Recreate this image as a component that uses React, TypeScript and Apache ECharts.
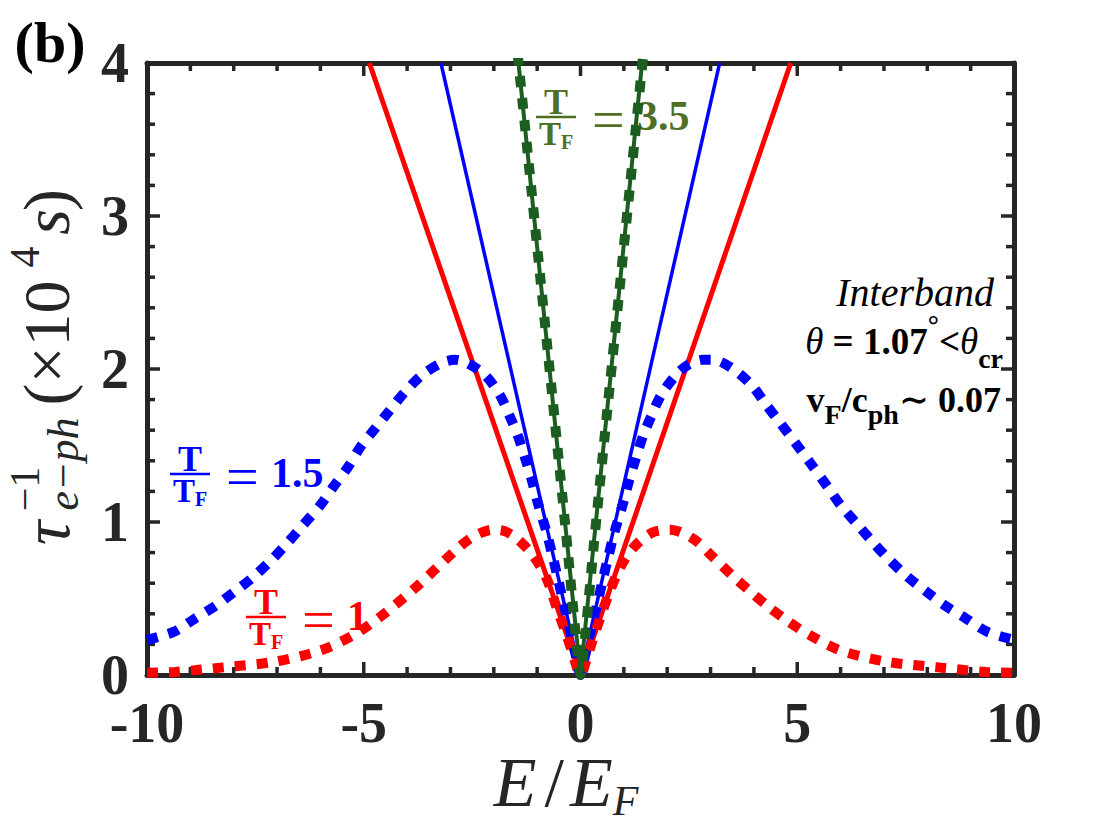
import React, { useEffect, useRef } from 'react';
import * as echarts from 'echarts';

// ---- data ----
const xTickValues = [-10, -5, 0, 5, 10];
const xMinorTickValues = [-9, -8, -7, -6, -4, -3, -2, -1, 1, 2, 3, 4, 6, 7, 8, 9];
const yTickValues = [0, 1, 2, 3, 4];
const yMinorTickValues = [0.2, 0.4, 0.6, 0.8, 1.2, 1.4, 1.6, 1.8, 2.2, 2.4, 2.6, 2.8, 3.2, 3.4, 3.6, 3.8];

const solidRedX = [-4.87, 0, 4.85];
const solidRedY = [4, 0, 4];
const solidBlueX = [-3.22, 0, 3.21];
const solidBlueY = [4, 0, 4];
const solidGreenX = [-1.43, 0, 1.42];
const solidGreenY = [4, 0, 4];

const dotRedX = [-10, -9.35, -8.24, -7.1, -6.0, -5.24, -4.62, -3.77, -2.94, -2.5, -2.02, -1.75, -1.46, -1.09, -0.78, -0.55, -0.32, -0.17, 0, 0.17, 0.26, 0.45, 0.68, 0.91, 1.21, 1.65, 2.07, 2.6, 3.06, 3.5, 3.9, 4.32, 4.79, 5.29, 6.0, 7.1, 8.24, 9.35, 10];
const dotRedY = [0.015, 0.02, 0.05, 0.085, 0.16, 0.26, 0.38, 0.58, 0.8, 0.9, 0.95, 0.94, 0.89, 0.78, 0.63, 0.44, 0.26, 0.13, 0, 0.13, 0.21, 0.37, 0.55, 0.7, 0.83, 0.93, 0.95, 0.89, 0.77, 0.65, 0.55, 0.45, 0.35, 0.26, 0.16, 0.085, 0.05, 0.02, 0.015];

const dotBlueX = [-10, -9.4, -8.89, -8.43, -8.0, -7.55, -7.1, -6.77, -6.4, -6.0, -5.7, -5.36, -5.08, -4.74, -4.4, -4.05, -3.66, -3.2, -2.9, -2.62, -2.2, -1.86, -1.63, -1.44, -1.28, -1.12, -0.98, -0.78, -0.63, -0.52, -0.4, -0.24, -0.1, 0, 0.1, 0.24, 0.4, 0.52, 0.63, 0.78, 0.98, 1.12, 1.28, 1.44, 1.63, 1.86, 2.2, 2.5, 2.83, 3.06, 3.52, 3.96, 4.3, 4.6, 4.95, 5.29, 5.7, 6.0, 6.4, 6.77, 7.1, 7.55, 8.0, 8.43, 8.89, 9.4, 10];
const dotBlueY = [0.23, 0.28, 0.37, 0.45, 0.54, 0.64, 0.76, 0.86, 0.98, 1.11, 1.23, 1.36, 1.49, 1.61, 1.73, 1.85, 1.96, 2.04, 2.06, 2.04, 1.96, 1.83, 1.69, 1.56, 1.42, 1.27, 1.12, 0.93, 0.76, 0.63, 0.48, 0.29, 0.12, 0, 0.12, 0.29, 0.48, 0.63, 0.76, 0.93, 1.12, 1.27, 1.42, 1.56, 1.69, 1.83, 1.96, 2.03, 2.06, 2.06, 2.0, 1.89, 1.76, 1.65, 1.52, 1.39, 1.23, 1.11, 0.98, 0.86, 0.76, 0.64, 0.54, 0.45, 0.37, 0.28, 0.23];

const dotGreenX = [-1.5, -1.2, -0.9, -0.6, -0.3, -0.12, 0, 0.12, 0.3, 0.6, 0.9, 1.2, 1.5];
const dotGreenY = [4.2, 3.36, 2.52, 1.68, 0.83, 0.29, 0, 0.29, 0.83, 1.68, 2.52, 3.36, 4.2];

const SERIF = "'Liberation Serif', 'DejaVu Serif', serif";
const AXIS_COLOR = '#262626';
const RED = '#ff0000';
const BLUE = '#0000ff';
const GREEN = '#1b5e20';
const GREEN_LABEL = '#4d7024';

const pairs = (xs: number[], ys: number[]) => xs.map((x, i) => [x, ys[i]]);

function fractionLabel(cx: number, cy: number, value: string, color: string) {
  return {
    type: 'group',
    x: cx,
    y: cy,
    children: [
      { type: 'text', x: 0, y: -15, style: { text: 'T', fontSize: 36, fontWeight: 'bold', fontFamily: SERIF, fill: color, align: 'center', verticalAlign: 'middle' } },
      { type: 'line', shape: { x1: -20, y1: 0, x2: 20, y2: 0 }, style: { stroke: color, lineWidth: 2.5 } },
      {
        type: 'text', x: 0, y: 17,
        style: {
          text: '{m|T}{s|F}', align: 'center', verticalAlign: 'middle', fill: color,
          rich: {
            m: { fontSize: 33, fontWeight: 'bold', fontFamily: SERIF, fill: color, lineHeight: 36, verticalAlign: 'middle' },
            s: { fontSize: 20, fontWeight: 'bold', fontFamily: SERIF, fill: color, lineHeight: 20, verticalAlign: 'bottom' },
          },
        },
      },
      { type: 'text', x: 36, y: 2, style: { text: '=', fontSize: 58, fontFamily: SERIF, fill: color, align: 'left', verticalAlign: 'middle' } },
      { type: 'text', x: 81, y: -1, style: { text: value, fontSize: 42, fontWeight: 'bold', fontFamily: SERIF, fill: color, align: 'left', verticalAlign: 'middle' } },
    ],
  };
}

function rotText(x: number, y: number, text: string, size: number, italic = false) {
  return {
    type: 'text', x, y, rotation: Math.PI / 2,
    style: { text, fontSize: size, fontFamily: SERIF, fontStyle: italic ? 'italic' : 'normal', fill: AXIS_COLOR, align: 'center', verticalAlign: 'middle' },
  };
}

export default function App() {
  const ref = useRef<HTMLDivElement>(null);
  useEffect(() => {
    if (!ref.current) return;
    const chart = echarts.init(ref.current, undefined, { renderer: 'svg' });

    const xMin = xTickValues[0];
    const xMax = xTickValues[xTickValues.length - 1];
    const yMin = yTickValues[0];
    const yMax = yTickValues[yTickValues.length - 1];

    const labelStyle = { fontSize: 56, fontWeight: 'bold', fontFamily: SERIF, color: AXIS_COLOR };

    const makeAxis = (position: string, min: number, max: number, interval: number, withLabel: boolean, margin: number) => ({
      type: 'value',
      position,
      min,
      max,
      interval,
      axisLine: { show: true, onZero: false, lineStyle: { color: AXIS_COLOR, width: 5 } },
      axisTick: { show: false },
      minorTick: { show: false },
      splitLine: { show: false },
      minorSplitLine: { show: false },
      axisLabel: withLabel ? { ...labelStyle, margin, formatter: (v: number) => String(v) } : { show: false },
    });

    const lineSeries = (data: number[][], color: string, width: number, dashed: number[] | null, smooth = 0) => ({
      type: 'line',
      data,
      showSymbol: false,
      symbol: 'none',
      smooth,
      clip: true,
      lineStyle: { color, width, type: dashed ? dashed : 'solid', cap: 'butt' },
      emphasis: { disabled: true },
      silent: true,
    });

    // inward ticks on all four sides, placed through the axes' own scales
    const tickSeries = (values: number[], dir: 'x' | 'y', len: number) => ({
      type: 'custom',
      silent: true,
      data: dir === 'x' ? values.map((v) => [v, yMin]) : values.map((v) => [xMin, v]),
      renderItem: (_params: any, api: any) => {
        if (dir === 'x') {
          const v = api.value(0);
          const b = api.coord([v, yMin]);
          const t = api.coord([v, yMax]);
          return {
            type: 'group',
            children: [
              { type: 'line', shape: { x1: b[0], y1: b[1], x2: b[0], y2: b[1] - len }, style: { stroke: AXIS_COLOR, lineWidth: 3.5 } },
              { type: 'line', shape: { x1: t[0], y1: t[1], x2: t[0], y2: t[1] + len }, style: { stroke: AXIS_COLOR, lineWidth: 3.5 } },
            ],
          };
        }
        const v = api.value(1);
        const l = api.coord([xMin, v]);
        const r = api.coord([xMax, v]);
        return {
          type: 'group',
          children: [
            { type: 'line', shape: { x1: l[0], y1: l[1], x2: l[0] + len, y2: l[1] }, style: { stroke: AXIS_COLOR, lineWidth: 3.5 } },
            { type: 'line', shape: { x1: r[0], y1: r[1], x2: r[0] - len, y2: r[1] }, style: { stroke: AXIS_COLOR, lineWidth: 3.5 } },
          ],
        };
      },
    });

    chart.setOption({
      animation: false,
      grid: { left: 147, right: 106, top: 63, bottom: 165 },
      xAxis: [
        makeAxis('bottom', xMin, xMax, 5, true, 20),
        makeAxis('top', xMin, xMax, 5, false, 0),
      ],
      yAxis: [
        makeAxis('left', yMin, yMax, 1, true, 18),
        makeAxis('right', yMin, yMax, 1, false, 0),
      ],
      series: [
        tickSeries(xTickValues, 'x', 13),
        tickSeries(xMinorTickValues, 'x', 8),
        tickSeries(yTickValues, 'y', 13),
        tickSeries(yMinorTickValues, 'y', 8),
        lineSeries(pairs(solidRedX, solidRedY), RED, 5, null),
        lineSeries(pairs(solidBlueX, solidBlueY), BLUE, 3.5, null),
        lineSeries(pairs(dotRedX, dotRedY), RED, 10, [11, 11], 0.3),
        lineSeries(pairs(dotBlueX, dotBlueY), BLUE, 10, [11, 11], 0.3),
        lineSeries(pairs(dotGreenX, dotGreenY), GREEN, 10, [11, 11], 0.2),
        lineSeries(pairs(solidGreenX, solidGreenY), GREEN, 4, null),
      ],
      graphic: [
        { type: 'text', x: 50, y: 42, style: { text: '(b)', fontSize: 58, fontWeight: 'bold', fontFamily: SERIF, fill: '#000', align: 'center', verticalAlign: 'middle' } },
        // y-axis name: τ^{-1}_{e-ph}(×10^4 s)
        rotText(46, 533, 'τ', 68, true),
        rotText(25, 489, '−1', 42),
        rotText(63, 464, 'e−ph', 44, true),
        rotText(46, 343, '(×10', 66),
        rotText(25, 257, '4', 42),
        rotText(46, 222, 's', 66, true),
        rotText(46, 200, ')', 66),
        // x-axis name: E/E_F
        {
          type: 'text', x: 566, y: 782,
          style: {
            text: '{i|E}{sl|/}{i|E}{s|F}', align: 'center', verticalAlign: 'middle', fill: AXIS_COLOR,
            rich: {
              i: { fontSize: 70, fontStyle: 'italic', fontFamily: SERIF, fill: AXIS_COLOR, lineHeight: 80, verticalAlign: 'middle' },
              sl: { fontSize: 70, fontFamily: SERIF, fill: AXIS_COLOR, lineHeight: 80, verticalAlign: 'middle', padding: [0, 6, 0, 8] },
              s: { fontSize: 42, fontStyle: 'italic', fontFamily: SERIF, fill: AXIS_COLOR, lineHeight: 40, verticalAlign: 'bottom' },
            },
          },
        },
        fractionLabel(190, 474, '1.5', BLUE),
        fractionLabel(266, 617, '1', RED),
        fractionLabel(556, 117, '3.5', GREEN_LABEL),
        // annotation
        { type: 'text', x: 994, y: 292, style: { text: 'Interband', fontSize: 40, fontStyle: 'italic', fontFamily: SERIF, fill: '#000', align: 'right', verticalAlign: 'middle' } },
        {
          type: 'text', x: 1003, y: 341,
          style: {
            text: '{it|θ}{b| = 1.07}{sup|°}{b|<}{it|θ}{sub|cr}', align: 'right', verticalAlign: 'middle', fill: '#000',
            rich: {
              it: { fontSize: 37, fontStyle: 'italic', fontFamily: SERIF, fill: '#000', lineHeight: 62, verticalAlign: 'middle' },
              b: { fontSize: 37, fontWeight: 'bold', fontFamily: SERIF, fill: '#000', lineHeight: 62, verticalAlign: 'middle' },
              sup: { fontSize: 28, fontWeight: 'bold', fontFamily: SERIF, fill: '#000', lineHeight: 26, verticalAlign: 'top' },
              sub: { fontSize: 28, fontWeight: 'bold', fontFamily: SERIF, fill: '#000', lineHeight: 26, verticalAlign: 'bottom' },
            },
          },
        },
        {
          type: 'text', x: 1001, y: 400,
          style: {
            text: '{b|v}{sub|F}{b|/c}{sub|ph}{b|∼ 0.07}', align: 'right', verticalAlign: 'middle', fill: '#000',
            rich: {
              b: { fontSize: 36, fontWeight: 'bold', fontFamily: SERIF, fill: '#000', lineHeight: 56, verticalAlign: 'middle' },
              sub: { fontSize: 28, fontWeight: 'bold', fontFamily: SERIF, fill: '#000', lineHeight: 26, verticalAlign: 'bottom' },
            },
          },
        },
      ],
    });
    return () => chart.dispose();
  }, []);

  return <div ref={ref} style={{ position: 'fixed', left: 0, top: 0, width: 1120, height: 840, background: '#fff' }} />;
}
